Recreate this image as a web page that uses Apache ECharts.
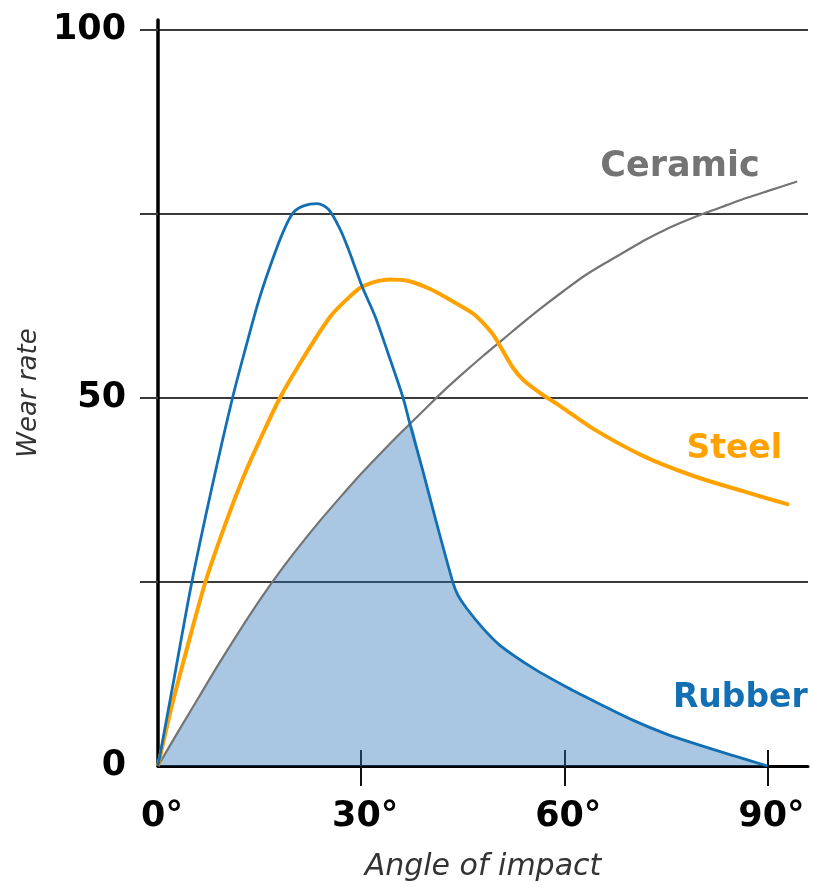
<!DOCTYPE html>
<html>
<head>
<meta charset="utf-8">
<script src="https://cdn.jsdelivr.net/npm/echarts@6/dist/echarts.min.js"></script>
<style>
html,body{margin:0;padding:0;background:#fff;}
#chart{width:813px;height:887px;}
</style>
</head>
<body>
<div id="chart"></div>
<script>
// ---- data ----
const rubber = [[0,0],[2.5,12.5],[5,25],[8,38],[11,50],[13,57],[14.8,63],[16.6,68],[18.5,72.6],[20,75.2],[21.5,76.1],[23.5,76.4],[25.2,75.6],[26.9,72.9],[28,70.5],[29.4,67],[30.3,64.8],[32.1,61],[34,56],[36.2,50],[37.2,46.5],[39,40.5],[41,33.5],[43.6,24.8],[44.3,23.2],[45.6,21.4],[48,18.7],[50.5,16.4],[55.4,13.3],[60.4,10.7],[65.3,8.4],[70.2,6.2],[75.2,4.3],[80.1,2.8],[85,1.4],[90,0]];
const steel = [[0,0],[2,8],[4,15],[7,25],[10,33],[12.5,39],[15,44.2],[18,50],[21.5,55.5],[25.4,61],[28,63.5],[30.3,65.2],[34.3,66.1],[37,65.9],[40.2,64.8],[43,63.4],[46.5,61.5],[48,60.2],[49.5,58.6],[51,56.3],[52.5,54],[54,52.4],[56.4,50.7],[59.4,48.9],[64.3,45.8],[71.7,42.1],[79.1,39.4],[86.5,37.3],[93.2,35.5]];
const ceramic = [[0,0],[3,4.7],[6,9.3],[9,13.9],[12,18.3],[15,22.5],[18,26.4],[21,30],[24,33.4],[27,36.6],[30,39.7],[33,42.6],[36,45.4],[39,48.1],[42,50.8],[45,53.3],[48,55.7],[51,58],[54,60.3],[57,62.5],[60,64.6],[63,66.6],[66,68.3],[69,69.9],[72,71.5],[75,72.9],[78,74.1],[81,75.2],[84,76.2],[87,77.2],[90,78.1],[94.4,79.4]];
const crossAngle = 37.2; // where rubber drops below ceramic
const xLabelValues = [0, 30, 60, 90];
const xTickValues = [30, 60, 90];
const yLabelValues = [0, 50, 100];
const yTickValues = [25, 50, 75, 100];

// shaded overlap region: under both ceramic and rubber
const shaded = ceramic.filter(p => p[0] < crossAngle).concat(rubber.filter(p => p[0] >= crossAngle));

const FONT = 'DejaVu Sans';
const BLUE = '#136fb3';
const ORANGE = '#ffa200';
const GRAY = '#747474';
const GRID = '#3a3a3a';

const chart = echarts.init(document.getElementById('chart'));
chart.setOption({
  animation: false,
  backgroundColor: '#fff',
  grid: {left: 158, right: 5, top: 20, bottom: 119, containLabel: false},
  xAxis: [{
    type: 'value', min: 0, max: 96, interval: 30,
    name: 'Angle of impact', nameLocation: 'middle', nameGap: 86,
    nameTextStyle: {fontFamily: FONT, fontStyle: 'italic', fontSize: 30, color: '#333'},
    axisLine: {show: true, lineStyle: {color: '#000', width: 3}},
    axisTick: {show: true, inside: false, length: 20, customValues: xTickValues, lineStyle: {color: '#111', width: 2}},
    axisLabel: {show: true, customValues: xLabelValues, formatter: '{value}°', margin: 33, padding: [0,0,0,8],
      fontFamily: FONT, fontWeight: 'bold', fontSize: 35, color: '#000'},
    splitLine: {show: false}
  }, {
    type: 'value', min: 0, max: 96, interval: 30, position: 'bottom',
    axisLine: {show: false},
    axisTick: {show: true, inside: true, length: 16, customValues: xTickValues, lineStyle: {color: '#111', width: 2}},
    axisLabel: {show: false},
    splitLine: {show: false}
  }],
  yAxis: {
    type: 'value', min: 0, max: 101.35, interval: 25,
    name: 'Wear rate', nameLocation: 'middle', nameGap: 112, nameRotate: 90,
    nameTextStyle: {fontFamily: FONT, fontStyle: 'italic', fontSize: 26, color: '#333'},
    axisLine: {show: true, lineStyle: {color: '#000', width: 3.5}},
    axisTick: {show: true, inside: false, length: 18, customValues: yTickValues, lineStyle: {color: GRID, width: 2}},
    axisLabel: {show: true, customValues: yLabelValues, margin: 32,
      fontFamily: FONT, fontWeight: 'bold', fontSize: 35, color: '#000'},
    splitLine: {show: true, showMinLine: true, showMaxLine: true, lineStyle: {color: GRID, width: 2}}
  },
  series: [
    {
      name: 'Overlap', type: 'line', data: shaded, smooth: 0.3, symbol: 'none',
      lineStyle: {width: 0}, areaStyle: {color: 'rgba(40,115,185,0.4)', opacity: 1}, z: 1, silent: true
    },
    {
      name: 'Ceramic', type: 'line', data: ceramic, smooth: 0.3, symbol: 'none',
      lineStyle: {color: GRAY, width: 2.2}, z: 3,
      markPoint: {symbol: 'circle', symbolSize: 0, silent: true,
        label: {show: true, position: 'inside', formatter: 'Ceramic', fontFamily: FONT, fontWeight: 'bold', fontSize: 35, color: GRAY},
        data: [{coord: [77.1, 81.4]}]}
    },
    {
      name: 'Steel', type: 'line', data: steel, smooth: 0.3, symbol: 'none',
      lineStyle: {color: ORANGE, width: 4}, z: 4,
      markPoint: {symbol: 'circle', symbolSize: 0, silent: true,
        label: {show: true, position: 'inside', formatter: 'Steel', fontFamily: FONT, fontWeight: 'bold', fontSize: 33, color: ORANGE},
        data: [{coord: [85.1, 43]}]}
    },
    {
      name: 'Rubber', type: 'line', data: rubber, smooth: 0.3, symbol: 'none',
      lineStyle: {color: BLUE, width: 2.8}, z: 5,
      markPoint: {symbol: 'circle', symbolSize: 0, silent: true,
        label: {show: true, position: 'inside', formatter: 'Rubber', fontFamily: FONT, fontWeight: 'bold', fontSize: 33, color: BLUE},
        data: [{coord: [86.0, 9.2]}]}
    }
  ]
});
</script>
</body>
</html>
